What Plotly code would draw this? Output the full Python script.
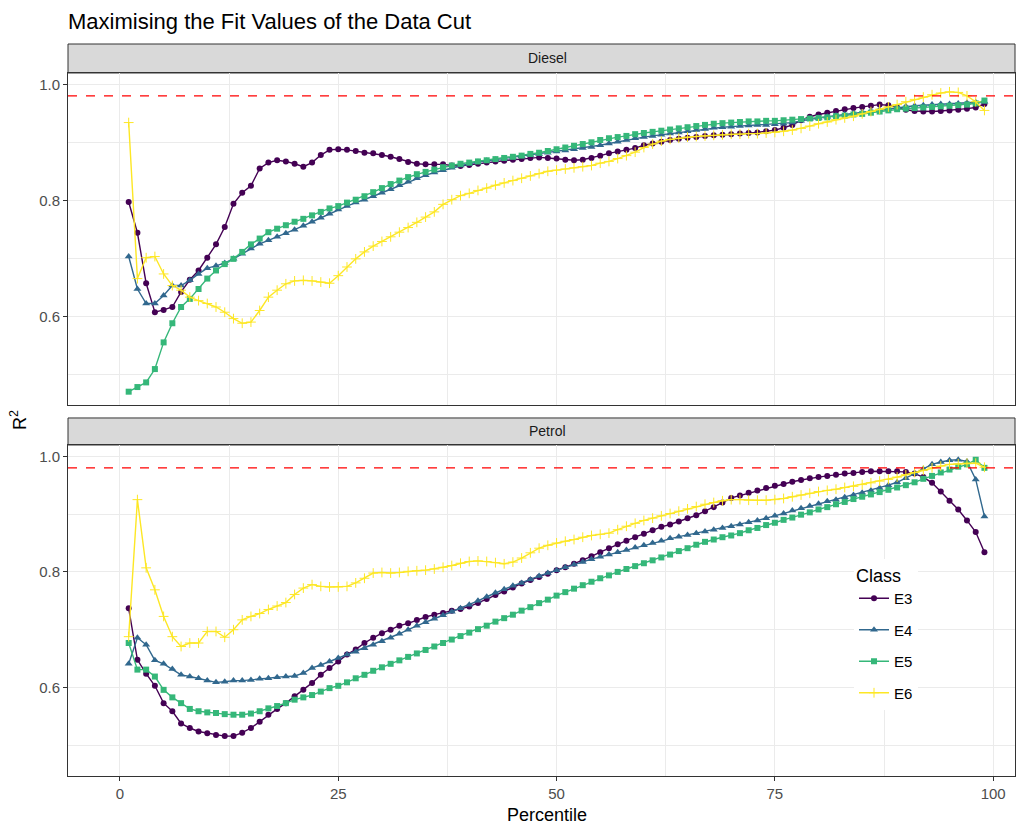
import plotly.graph_objects as go

percentile = list(range(1, 100))
classes = ["E3", "E4", "E5", "E6"]
threshold = 0.98
x_ticks = [0, 25, 50, 75, 100]
y_ticks = [0.6, 0.8, 1.0]
y_tick_labels = ["0.6", "0.8", "1.0"]

diesel_E3 = [0.797, 0.744, 0.657, 0.607, 0.611, 0.616, 0.642, 0.663, 0.679, 0.701,
             0.724, 0.754, 0.794, 0.813, 0.825, 0.855, 0.865, 0.869, 0.867, 0.863,
             0.858, 0.865, 0.878, 0.887, 0.888, 0.887, 0.885, 0.882, 0.881, 0.878,
             0.875, 0.871, 0.866, 0.863, 0.862, 0.862, 0.862, 0.860, 0.859, 0.861,
             0.863, 0.865, 0.867, 0.868, 0.870, 0.871, 0.873, 0.874, 0.873, 0.872,
             0.870, 0.869, 0.870, 0.873, 0.877, 0.881, 0.884, 0.887, 0.890, 0.895,
             0.898, 0.901, 0.904, 0.906, 0.908, 0.909, 0.911, 0.912, 0.913, 0.914,
             0.915, 0.916, 0.917, 0.919, 0.921, 0.925, 0.930, 0.938, 0.944, 0.948,
             0.951, 0.954, 0.957, 0.959, 0.961, 0.963, 0.965, 0.964, 0.960, 0.956,
             0.954, 0.953, 0.953, 0.954, 0.955, 0.956, 0.958, 0.960, 0.966]
diesel_E4 = [0.703, 0.647, 0.622, 0.622, 0.636, 0.653, 0.653, 0.662, 0.673, 0.683,
             0.687, 0.692, 0.699, 0.708, 0.717, 0.725, 0.731, 0.737, 0.743, 0.749,
             0.756, 0.763, 0.770, 0.777, 0.784, 0.790, 0.796, 0.801, 0.807, 0.813,
             0.819, 0.826, 0.832, 0.838, 0.843, 0.848, 0.852, 0.856, 0.860, 0.863,
             0.866, 0.868, 0.870, 0.872, 0.874, 0.876, 0.878, 0.880, 0.882, 0.884,
             0.886, 0.888, 0.890, 0.892, 0.895, 0.898, 0.901, 0.904, 0.907, 0.909,
             0.911, 0.913, 0.915, 0.917, 0.919, 0.921, 0.923, 0.925, 0.926, 0.927,
             0.928, 0.929, 0.930, 0.930, 0.931, 0.932, 0.934, 0.937, 0.940, 0.942,
             0.944, 0.946, 0.948, 0.950, 0.952, 0.954, 0.956, 0.958, 0.960, 0.962,
             0.963, 0.964, 0.965, 0.966, 0.966, 0.967, 0.968, 0.969, 0.970]
diesel_E5 = [0.470, 0.478, 0.486, 0.509, 0.555, 0.588, 0.616, 0.630, 0.647, 0.665,
             0.679, 0.690, 0.699, 0.711, 0.724, 0.734, 0.745, 0.751, 0.757, 0.763,
             0.768, 0.774, 0.780, 0.786, 0.790, 0.796, 0.801, 0.807, 0.814, 0.821,
             0.828, 0.834, 0.840, 0.845, 0.849, 0.853, 0.857, 0.860, 0.863, 0.865,
             0.867, 0.869, 0.871, 0.873, 0.875, 0.877, 0.880, 0.882, 0.885, 0.888,
             0.891, 0.894, 0.897, 0.900, 0.904, 0.907, 0.909, 0.911, 0.914, 0.916,
             0.918, 0.920, 0.922, 0.924, 0.926, 0.928, 0.930, 0.932, 0.933, 0.934,
             0.935, 0.936, 0.936, 0.937, 0.937, 0.938, 0.939, 0.940, 0.941, 0.942,
             0.943, 0.945, 0.946, 0.948, 0.949, 0.951, 0.953, 0.955, 0.957, 0.958,
             0.959, 0.960, 0.961, 0.962, 0.963, 0.964, 0.965, 0.967, 0.972]
diesel_E6 = [0.934, 0.665, 0.701, 0.703, 0.673, 0.653, 0.645, 0.633, 0.627, 0.622,
             0.616, 0.607, 0.596, 0.588, 0.590, 0.610, 0.633, 0.645, 0.656, 0.661,
             0.662, 0.661, 0.659, 0.657, 0.670, 0.685, 0.699, 0.711, 0.721, 0.729,
             0.737, 0.745, 0.753, 0.762, 0.771, 0.780, 0.793, 0.801, 0.808, 0.812,
             0.817, 0.821, 0.826, 0.830, 0.834, 0.838, 0.842, 0.846, 0.850, 0.852,
             0.854, 0.856, 0.858, 0.860, 0.864, 0.867, 0.872, 0.877, 0.883, 0.891,
             0.897, 0.902, 0.905, 0.907, 0.909, 0.910, 0.911, 0.912, 0.913, 0.914,
             0.914, 0.915, 0.915, 0.916, 0.917, 0.919, 0.921, 0.924, 0.928, 0.932,
             0.935, 0.939, 0.942, 0.945, 0.949, 0.953, 0.957, 0.961, 0.965, 0.970,
             0.974, 0.978, 0.982, 0.985, 0.987, 0.986, 0.980, 0.970, 0.955]

petrol_E3 = [0.737, 0.648, 0.624, 0.603, 0.573, 0.559, 0.538, 0.530, 0.524, 0.521,
             0.518, 0.516, 0.516, 0.522, 0.530, 0.541, 0.553, 0.563, 0.573, 0.585,
             0.596, 0.608, 0.622, 0.634, 0.645, 0.657, 0.666, 0.677, 0.686, 0.694,
             0.700, 0.707, 0.711, 0.717, 0.722, 0.726, 0.729, 0.733, 0.736, 0.740,
             0.746, 0.753, 0.760, 0.766, 0.773, 0.780, 0.786, 0.791, 0.797, 0.803,
             0.808, 0.814, 0.820, 0.827, 0.834, 0.841, 0.848, 0.854, 0.860, 0.866,
             0.872, 0.878, 0.882, 0.887, 0.893, 0.898, 0.905, 0.912, 0.920, 0.928,
             0.932, 0.937, 0.941, 0.945, 0.949, 0.952, 0.956, 0.959, 0.962, 0.964,
             0.966, 0.968, 0.970, 0.971, 0.973, 0.974, 0.974, 0.974, 0.974, 0.973,
             0.970, 0.964, 0.954, 0.939, 0.923, 0.908, 0.889, 0.869, 0.834]
petrol_E4 = [0.641, 0.686, 0.674, 0.647, 0.641, 0.632, 0.622, 0.619, 0.616, 0.612,
             0.609, 0.610, 0.612, 0.612, 0.613, 0.615, 0.616, 0.618, 0.619, 0.620,
             0.625, 0.634, 0.639, 0.645, 0.651, 0.657, 0.662, 0.668, 0.674, 0.680,
             0.686, 0.693, 0.700, 0.707, 0.713, 0.719, 0.725, 0.731, 0.737, 0.743,
             0.750, 0.757, 0.764, 0.770, 0.776, 0.781, 0.787, 0.793, 0.798, 0.803,
             0.808, 0.813, 0.817, 0.822, 0.826, 0.830, 0.834, 0.838, 0.842, 0.846,
             0.850, 0.854, 0.858, 0.861, 0.864, 0.867, 0.870, 0.873, 0.876, 0.879,
             0.882, 0.886, 0.889, 0.893, 0.897, 0.901, 0.906, 0.910, 0.914, 0.918,
             0.922, 0.925, 0.929, 0.933, 0.937, 0.941, 0.945, 0.950, 0.955, 0.962,
             0.970, 0.978, 0.986, 0.990, 0.993, 0.994, 0.991, 0.960, 0.896]
petrol_E5 = [0.677, 0.631, 0.631, 0.619, 0.596, 0.583, 0.573, 0.563, 0.559, 0.557,
             0.556, 0.554, 0.553, 0.553, 0.555, 0.559, 0.564, 0.568, 0.573, 0.579,
             0.583, 0.587, 0.593, 0.599, 0.603, 0.609, 0.616, 0.622, 0.629, 0.635,
             0.641, 0.647, 0.653, 0.659, 0.665, 0.671, 0.677, 0.683, 0.689, 0.695,
             0.701, 0.707, 0.714, 0.720, 0.726, 0.733, 0.739, 0.746, 0.752, 0.759,
             0.765, 0.771, 0.777, 0.783, 0.789, 0.794, 0.800, 0.805, 0.810, 0.815,
             0.820, 0.825, 0.830, 0.836, 0.841, 0.847, 0.852, 0.856, 0.860, 0.863,
             0.867, 0.872, 0.876, 0.881, 0.885, 0.890, 0.894, 0.899, 0.903, 0.908,
             0.912, 0.917, 0.921, 0.926, 0.930, 0.934, 0.938, 0.942, 0.946, 0.950,
             0.955, 0.961, 0.966, 0.972, 0.977, 0.982, 0.986, 0.994, 0.980]
petrol_E6 = [0.688, 0.925, 0.807, 0.769, 0.723, 0.688, 0.671, 0.677, 0.677, 0.697,
             0.697, 0.687, 0.700, 0.717, 0.723, 0.728, 0.735, 0.741, 0.747, 0.761,
             0.772, 0.778, 0.775, 0.774, 0.774, 0.775, 0.781, 0.789, 0.798, 0.799,
             0.798, 0.799, 0.801, 0.802, 0.803, 0.805, 0.808, 0.811, 0.815, 0.818,
             0.819, 0.818, 0.816, 0.814, 0.817, 0.824, 0.833, 0.841, 0.846, 0.850,
             0.853, 0.856, 0.860, 0.863, 0.865, 0.867, 0.873, 0.879, 0.884, 0.889,
             0.893, 0.897, 0.901, 0.905, 0.909, 0.913, 0.917, 0.920, 0.923, 0.925,
             0.925, 0.924, 0.924, 0.924, 0.925, 0.927, 0.930, 0.933, 0.936, 0.939,
             0.941, 0.943, 0.946, 0.948, 0.951, 0.954, 0.957, 0.960, 0.964, 0.968,
             0.972, 0.976, 0.980, 0.983, 0.986, 0.987, 0.988, 0.988, 0.981]

diesel = {"E3": diesel_E3, "E4": diesel_E4, "E5": diesel_E5, "E6": diesel_E6}
petrol = {"E3": petrol_E3, "E4": petrol_E4, "E5": petrol_E5, "E6": petrol_E6}

colors = {"E3": "#440154", "E4": "#31688E", "E5": "#35B779", "E6": "#FDE725"}
symbols = {"E3": "circle", "E4": "triangle-up", "E5": "square", "E6": "cross-thin"}
msize = {"E3": 6, "E4": 7, "E5": 6, "E6": 7}

FONT = "Liberation Sans, Arial, Helvetica, sans-serif"
fig = go.Figure()

for panel, xa, ya, data, show in [("Diesel", "x2", "y2", diesel, True),
                                   ("Petrol", "x", "y", petrol, False)]:
    for c in classes:
        if c == "E6":
            marker = dict(symbol=symbols[c], size=msize[c], color=colors[c],
                          line=dict(width=1.0, color=colors[c]))
        else:
            marker = dict(symbol=symbols[c], size=msize[c], color=colors[c],
                          line=dict(width=0))
        fig.add_trace(go.Scatter(
            x=percentile, y=data[c], mode="lines+markers", name=c,
            legendgroup=c, showlegend=show, xaxis=xa, yaxis=ya,
            line=dict(color=colors[c], width=1.4), marker=marker))

x_range = [-5.95, 102.5]
y_range = [0.447, 1.0195]
top_dom = [0.5068, 0.9604]
bot_dom = [0.0, 0.4522]

grid_major = "#EBEBEB"
axis_common = dict(showline=True, mirror=True, linecolor="#333333", linewidth=1,
                   showgrid=True, gridcolor=grid_major, gridwidth=1.1, zeroline=False)

fig.update_layout(
    width=1020, height=827,
    margin=dict(l=68, r=5, t=44, b=51),
    paper_bgcolor="white", plot_bgcolor="white",
    font=dict(family=FONT, color="#4D4D4D"),
    title=dict(text="Maximising the Fit Values of the Data Cut", x=0, xref="paper",
               xanchor="left", y=1 - 21 / 827, yref="container", yanchor="middle",
               font=dict(size=22, color="#000000", family=FONT)),
    xaxis=dict(domain=[0, 1], anchor="y", range=x_range, tickvals=x_ticks,
               ticks="outside", ticklen=4, tickcolor="#333333",
               tickfont=dict(size=15, color="#4D4D4D"),
               minor=dict(tickvals=[12.5, 37.5, 62.5, 87.5], showgrid=True,
                          gridcolor=grid_major, gridwidth=0.55, ticks=""),
               **axis_common),
    xaxis2=dict(domain=[0, 1], anchor="y2", range=x_range, tickvals=x_ticks,
                matches="x", showticklabels=False, ticks="",
                minor=dict(tickvals=[12.5, 37.5, 62.5, 87.5], showgrid=True,
                           gridcolor=grid_major, gridwidth=0.55, ticks=""),
                **axis_common),
    yaxis=dict(domain=bot_dom, anchor="x", range=y_range, tickvals=y_ticks,
               ticktext=y_tick_labels, ticks="outside", ticklen=4, tickcolor="#333333",
               tickfont=dict(size=15, color="#4D4D4D"),
               minor=dict(tickvals=[0.5, 0.7, 0.9], showgrid=True,
                          gridcolor=grid_major, gridwidth=0.55, ticks=""),
               **axis_common),
    yaxis2=dict(domain=top_dom, anchor="x2", range=y_range, tickvals=y_ticks,
                ticktext=y_tick_labels, ticks="outside", ticklen=4, tickcolor="#333333",
                tickfont=dict(size=15, color="#4D4D4D"),
                minor=dict(tickvals=[0.5, 0.7, 0.9], showgrid=True,
                           gridcolor=grid_major, gridwidth=0.55, ticks=""),
                **axis_common),
    legend=dict(x=0.83, y=0.297, xanchor="left", yanchor="top",
                bgcolor="white", borderwidth=0,
                font=dict(size=15, color="#000000", family=FONT),
                title=dict(text="Class", font=dict(size=18, color="#000000", family=FONT)),
                tracegroupgap=9, itemwidth=30),
)

# reference line
for xr, yr in [("x domain", "y"), ("x2 domain", "y2")]:
    fig.add_shape(type="line", xref=xr, yref=yr, x0=0, x1=1, y0=threshold, y1=threshold,
                  line=dict(color="#FF0000", width=1.3, dash="dash"), layer="above")

# facet strips
strips = [("Diesel", top_dom[1], 1.0), ("Petrol", bot_dom[1], 0.4891)]
for label, y0, y1 in strips:
    fig.add_shape(type="rect", xref="paper", yref="paper", x0=0, x1=1, y0=y0, y1=y1,
                  fillcolor="#D9D9D9", line=dict(color="#333333", width=1), layer="below")
    fig.add_annotation(text=label, xref="paper", yref="paper", x=0.5063, y=(y0 + y1) / 2,
                       showarrow=False, xanchor="center", yanchor="middle",
                       font=dict(size=14, color="#1A1A1A", family=FONT))

# axis titles
fig.add_annotation(text="Percentile", xref="paper", yref="paper", x=0.5063,
                   y=(776 - 815) / 732, showarrow=False, xanchor="center", yanchor="middle",
                   font=dict(size=18, color="#000000", family=FONT))
fig.add_annotation(text="R<sup>2</sup>", xref="paper", yref="paper", x=(18 - 68) / 947,
                   y=(776 - 420) / 732, showarrow=False, textangle=-90,
                   xanchor="center", yanchor="middle",
                   font=dict(size=18, color="#000000", family=FONT))

fig.write_html("out.html")
